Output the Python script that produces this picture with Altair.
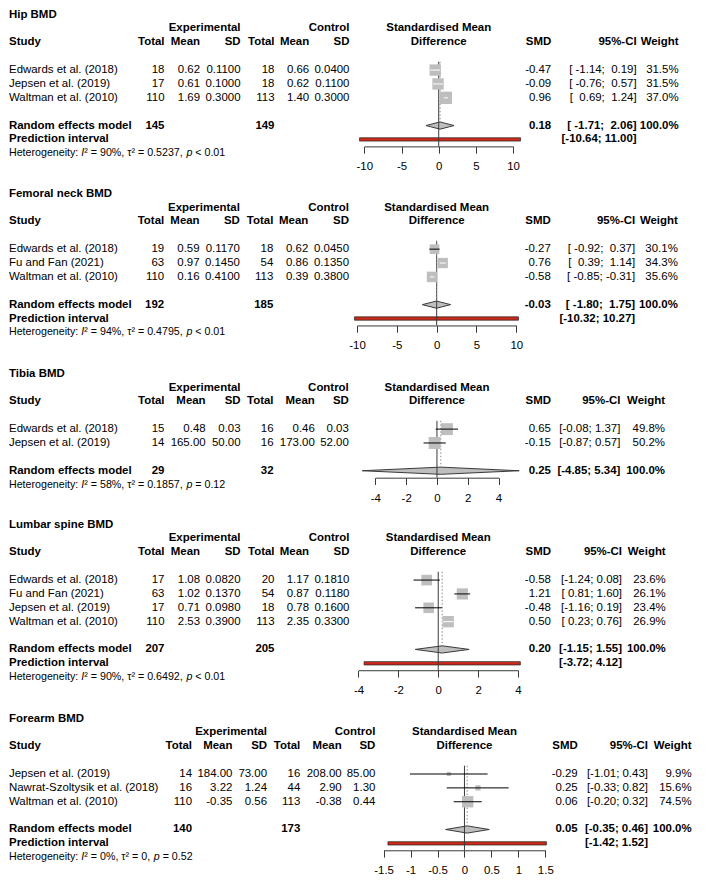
import altair as alt
import pandas as pd

# ---------------- data ----------------
hip_title = "Hip BMD"
hip_studies = ["Edwards et al. (2018)", "Jepsen et al. (2019)", "Waltman et al. (2010)"]
hip_n_e = [18, 17, 110]
hip_mean_e = [0.62, 0.61, 1.69]
hip_sd_e = [0.1100, 0.1000, 0.3000]
hip_n_c = [18, 18, 113]
hip_mean_c = [0.66, 0.62, 1.40]
hip_sd_c = [0.0400, 0.1100, 0.3000]
hip_smd = [-0.47, -0.09, 0.96]
hip_lower = [-1.14, -0.76, 0.69]
hip_upper = [0.19, 0.57, 1.24]
hip_weight = [31.5, 31.5, 37.0]
hip_random = [0.18, -1.71, 2.06]
hip_predict = [-10.64, 11.00]
hip_totals = [145, 149]
hip_het = ["90%", "0.5237", "< 0.01"]
hip_ticks = [-10, -5, 0, 5, 10]

fn_title = "Femoral neck BMD"
fn_studies = ["Edwards et al. (2018)", "Fu and Fan (2021)", "Waltman et al. (2010)"]
fn_n_e = [19, 63, 110]
fn_mean_e = [0.59, 0.97, 0.16]
fn_sd_e = [0.1170, 0.1450, 0.4100]
fn_n_c = [18, 54, 113]
fn_mean_c = [0.62, 0.86, 0.39]
fn_sd_c = [0.0450, 0.1350, 0.3800]
fn_smd = [-0.27, 0.76, -0.58]
fn_lower = [-0.92, 0.39, -0.85]
fn_upper = [0.37, 1.14, -0.31]
fn_weight = [30.1, 34.3, 35.6]
fn_random = [-0.03, -1.80, 1.75]
fn_predict = [-10.32, 10.27]
fn_totals = [192, 185]
fn_het = ["94%", "0.4795", "< 0.01"]
fn_ticks = [-10, -5, 0, 5, 10]

tb_title = "Tibia BMD"
tb_studies = ["Edwards et al. (2018)", "Jepsen et al. (2019)"]
tb_n_e = [15, 14]
tb_mean_e = [0.48, 165.00]
tb_sd_e = [0.03, 50.00]
tb_n_c = [16, 16]
tb_mean_c = [0.46, 173.00]
tb_sd_c = [0.03, 52.00]
tb_smd = [0.65, -0.15]
tb_lower = [-0.08, -0.87]
tb_upper = [1.37, 0.57]
tb_weight = [49.8, 50.2]
tb_random = [0.25, -4.85, 5.34]
tb_predict = None
tb_totals = [29, 32]
tb_het = ["58%", "0.1857", "= 0.12"]
tb_ticks = [-4, -2, 0, 2, 4]

ls_title = "Lumbar spine BMD"
ls_studies = ["Edwards et al. (2018)", "Fu and Fan (2021)", "Jepsen et al. (2019)", "Waltman et al. (2010)"]
ls_n_e = [17, 63, 17, 110]
ls_mean_e = [1.08, 1.02, 0.71, 2.53]
ls_sd_e = [0.0820, 0.1370, 0.0980, 0.3900]
ls_n_c = [20, 54, 18, 113]
ls_mean_c = [1.17, 0.87, 0.78, 2.35]
ls_sd_c = [0.1810, 0.1180, 0.1600, 0.3300]
ls_smd = [-0.58, 1.21, -0.48, 0.50]
ls_lower = [-1.24, 0.81, -1.16, 0.23]
ls_upper = [0.08, 1.60, 0.19, 0.76]
ls_weight = [23.6, 26.1, 23.4, 26.9]
ls_random = [0.20, -1.15, 1.55]
ls_predict = [-3.72, 4.12]
ls_totals = [207, 205]
ls_het = ["90%", "0.6492", "< 0.01"]
ls_ticks = [-4, -2, 0, 2, 4]

fa_title = "Forearm BMD"
fa_studies = ["Jepsen et al. (2019)", "Nawrat-Szoltysik et al. (2018)", "Waltman et al. (2010)"]
fa_n_e = [14, 16, 110]
fa_mean_e = [184.00, 3.22, -0.35]
fa_sd_e = [73.00, 1.24, 0.56]
fa_n_c = [16, 44, 113]
fa_mean_c = [208.00, 2.90, -0.38]
fa_sd_c = [85.00, 1.30, 0.44]
fa_smd = [-0.29, 0.25, 0.06]
fa_lower = [-1.01, -0.33, -0.20]
fa_upper = [0.43, 0.82, 0.32]
fa_weight = [9.9, 15.6, 74.5]
fa_random = [0.05, -0.35, 0.46]
fa_predict = [-1.42, 1.52]
fa_totals = [140, 173]
fa_het = ["0%", "0", "= 0.52"]
fa_ticks = [-1.5, -1, -0.5, 0, 0.5, 1, 1.5]

# ---------------- layout ----------------
S = 0.97
FONT = "Liberation Sans"
FS = 11.8 * S
FS_HET = 11.0 * S
PITCH = 14.3
W = 690
NB = "\u00a0"
SQ = "#BEBEBE"
LINE = "#3a3a3a"
RED = "#cc2a1a"


def X(xr):
    return (xr - 3.0) * S + 1.0


def Yabs(yr):
    return (yr - 1.0) * S


AW = {' ': 278, '%': 889, ',': 278, '.': 278, ':': 278, ';': 278, '<': 584, '=': 584,
      'H': 722, 'I': 278, 'e': 556, 't': 278, 'r': 333, 'o': 556, 'g': 556, 'n': 556,
      'i': 222, 'y': 500, 'p': 556, '\u00b2': 333, '\u03c4': 450}


def tw(s, size):
    return sum(AW.get(ch, 556) for ch in s) / 1000.0 * size


cols_std = dict(te=163.3, me=200, se=241.7, tc=276.7, mc=312.5, sc=354, smd=562, ci=650, wt=693.3)

panels = [
    dict(title=hip_title, studies=hip_studies, n_e=hip_n_e, mean_e=hip_mean_e, sd_e=hip_sd_e,
         n_c=hip_n_c, mean_c=hip_mean_c, sd_c=hip_sd_c, smd=hip_smd, lower=hip_lower, upper=hip_upper,
         weight=hip_weight, random=hip_random, predict=hip_predict, totals=hip_totals, het=hip_het,
         ticks=hip_ticks, dm=2, ds=4,
         top=0, bottom=178, anchor=19, tick_px=(369.3, 522.7), sqmax=12.7, cols=cols_std),
    dict(title=fn_title, studies=fn_studies, n_e=fn_n_e, mean_e=fn_mean_e, sd_e=fn_sd_e,
         n_c=fn_n_c, mean_c=fn_mean_c, sd_c=fn_sd_c, smd=fn_smd, lower=fn_lower, upper=fn_upper,
         weight=fn_weight, random=fn_random, predict=fn_predict, totals=fn_totals, het=fn_het,
         ticks=fn_ticks, dm=2, ds=4,
         top=178, bottom=362, anchor=203.3, tick_px=(361.8, 526.0), sqmax=10.8,
         cols=dict(te=163, me=199.5, se=241, tc=275.5, mc=311.5, sc=353.5, smd=561.5, ci=648.5, wt=692.5)),
    dict(title=tb_title, studies=tb_studies, n_e=tb_n_e, mean_e=tb_mean_e, sd_e=tb_sd_e,
         n_c=tb_n_c, mean_c=tb_mean_c, sd_c=tb_sd_c, smd=tb_smd, lower=tb_lower, upper=tb_upper,
         weight=tb_weight, random=tb_random, predict=tb_predict, totals=tb_totals, het=tb_het,
         ticks=tb_ticks, dm=2, ds=2,
         top=362, bottom=515, anchor=388.3, tick_px=(380.7, 507.7), sqmax=12.3,
         cols=dict(te=163.3, me=205.7, se=241.7, tc=275.7, mc=318.3, sc=353.3, smd=561.7, ci=633.3, wt=679.3)),
    dict(title=ls_title, studies=ls_studies, n_e=ls_n_e, mean_e=ls_mean_e, sd_e=ls_sd_e,
         n_c=ls_n_c, mean_c=ls_mean_c, sd_c=ls_sd_c, smd=ls_smd, lower=ls_lower, upper=ls_upper,
         weight=ls_weight, random=ls_random, predict=ls_predict, totals=ls_totals, het=ls_het,
         ticks=ls_ticks, dm=2, ds=4,
         top=515, bottom=712, anchor=543.3, tick_px=(363.3, 527.7), sqmax=11.7,
         cols=dict(te=163.3, me=200, se=241.7, tc=276.7, mc=312.3, sc=354, smd=561.7, ci=635, wt=680)),
    dict(title=fa_title, studies=fa_studies, n_e=fa_n_e, mean_e=fa_mean_e, sd_e=fa_sd_e,
         n_c=fa_n_c, mean_c=fa_mean_c, sd_c=fa_sd_c, smd=fa_smd, lower=fa_lower, upper=fa_upper,
         weight=fa_weight, random=fa_random, predict=fa_predict, totals=fa_totals, het=fa_het,
         ticks=fa_ticks, dm=2, ds=2,
         top=712, bottom=892, anchor=742.3, tick_px=(389.2, 555.9), sqmax=11.7,
         cols=dict(te=191.7, me=233.3, se=269, tc=303.3, mc=346, sc=380.7, smd=589.3, ci=661.7, wt=706.7)),
]


def fmt_ci(lows, ups):
    ls = [f"{v:.2f}" for v in lows]
    us = [f"{v:.2f}" for v in ups]
    wl = max(map(len, ls))
    wu = max(map(len, us))
    return ["[" + l.rjust(wl, NB) + ";" + NB + u.rjust(wu, NB) + "]" for l, u in zip(ls, us)]


def build(d):
    k = len(d["studies"])
    srows = [4 + i for i in range(k)]
    r_re = 4 + k + 1
    has_pi = d["predict"] is not None
    r_last = r_re + 1 if has_pi else r_re
    r_het = r_last + 1
    r_axis = r_last + 0.5
    T = max(0.0, Yabs(d["top"]))
    H = Yabs(d["bottom"]) - T

    def P(r):
        return Yabs(d["anchor"] + (r - 1) * PITCH) - T

    yscale = alt.Scale(domain=[0, 12], range=[P(0), P(12)], nice=False, zero=False)
    ticks = d["ticks"]
    t0, t1 = ticks[0], ticks[-1]
    px0, px1 = d["tick_px"]
    xscale = alt.Scale(domain=[t0, t1], range=[X(px0), X(px1)], nice=False, zero=False)
    ppu = (px1 - px0) / (t1 - t0)
    zero_ref = px0 + (0 - t0) * ppu

    axis = alt.Axis(values=ticks, labelExpr="toString(datum.value)", title=None, grid=False,
                    orient="bottom", offset=P(r_axis) - H,
                    domainColor=LINE, domainWidth=1, tickColor=LINE, tickWidth=1, tickSize=7 * S,
                    labelFont=FONT, labelFontSize=FS, labelColor="black", labelPadding=8 * S,
                    labelFlush=False, labelOverlap=False)

    def ex(f):
        return alt.X(f"{f}:Q", scale=xscale, axis=axis)

    def ey(f):
        return alt.Y(f"{f}:Q", scale=yscale, axis=None)

    layers = []
    est, rlo, rhi = d["random"]
    hd = 0.26
    dia = pd.DataFrame({"x": [rlo, est, rhi], "a": [r_re, r_re - hd, r_re], "b": [r_re, r_re + hd, r_re]})
    layers.append(alt.Chart(dia).mark_area(fill=SQ, stroke=LINE, strokeWidth=1, orient="vertical")
                  .encode(x=ex("x"), y=ey("a"), y2="b:Q"))
    if has_pi:
        pi = pd.DataFrame({"lo": [d["predict"][0]], "hi": [d["predict"][1]],
                           "a": [r_last - 0.12], "b": [r_last + 0.12]})
        layers.append(alt.Chart(pi).mark_rect(fill=RED, stroke="#222222", strokeWidth=0.7)
                      .encode(x=ex("lo"), x2="hi:Q", y=ey("a"), y2="b:Q"))
    zl = pd.DataFrame({"x": [0], "a": [srows[0] - 0.6], "b": [r_axis]})
    layers.append(alt.Chart(zl).mark_rule(color=LINE, strokeWidth=1)
                  .encode(x=ex("x"), y=ey("a"), y2="b:Q"))
    dl = pd.DataFrame({"x": [est], "a": [srows[0] - 0.6], "b": [r_re - hd]})
    layers.append(alt.Chart(dl).mark_rule(color="#8a8a8a", strokeWidth=1, strokeDash=[1.5, 2])
                  .encode(x=ex("x"), y=ey("a"), y2="b:Q"))

    wmax = max(d["weight"])
    sq = pd.DataFrame({"x": d["smd"], "r": srows, "w": d["weight"]})
    layers.append(alt.Chart(sq).mark_square(color=SQ, opacity=1, strokeWidth=0)
                  .encode(x=ex("x"), y=ey("r"),
                          size=alt.Size("w:Q", scale=alt.Scale(domain=[0, wmax], range=[0, (d["sqmax"] * S) ** 2]),
                                        legend=None)))
    ci_col = []
    for lo, hi, w in zip(d["lower"], d["upper"], d["weight"]):
        side = d["sqmax"] * (w / wmax) ** 0.5
        ci_col.append("white" if (hi - lo) * ppu <= side else "black")
    ci = pd.DataFrame({"lo": d["lower"], "hi": d["upper"], "r": srows, "c": ci_col})
    layers.append(alt.Chart(ci).mark_rule(strokeWidth=1)
                  .encode(x=ex("lo"), x2="hi:Q", y=ey("r"), color=alt.Color("c:N", scale=None)))

    # ---- text table ----
    items = []

    def add(r, t, x, align="right", bold=False, size=FS, italic=False):
        items.append(dict(row=r, t=t, x=round(x, 2), align=align, bold=bold, size=round(size, 3), italic=italic))

    c = d["cols"]
    add(0, d["title"], X(3), "left", True)
    add(1, "Experimental", X(c["se"]), "right", True)
    add(1, "Control", X(c["sc"]), "right", True)
    add(1, "Standardised Mean", X(zero_ref), "center", True)
    add(2, "Difference", X(zero_ref), "center", True)
    add(2, "Study", X(3), "left", True)
    for key, lab in [("te", "Total"), ("me", "Mean"), ("se", "SD"), ("tc", "Total"), ("mc", "Mean"),
                     ("sc", "SD"), ("smd", "SMD"), ("ci", "95%-CI"), ("wt", "Weight")]:
        add(2, lab, X(c[key]), "right", True)
    lows = list(d["lower"]) + [rlo] + ([d["predict"][0]] if has_pi else [])
    ups = list(d["upper"]) + [rhi] + ([d["predict"][1]] if has_pi else [])
    cis = fmt_ci(lows, ups)
    dm, ds = d["dm"], d["ds"]
    for i in range(k):
        r = srows[i]
        add(r, d["studies"][i], X(3), "left")
        add(r, str(d["n_e"][i]), X(c["te"]))
        add(r, f"{d['mean_e'][i]:.{dm}f}", X(c["me"]))
        add(r, f"{d['sd_e'][i]:.{ds}f}", X(c["se"]))
        add(r, str(d["n_c"][i]), X(c["tc"]))
        add(r, f"{d['mean_c'][i]:.{dm}f}", X(c["mc"]))
        add(r, f"{d['sd_c'][i]:.{ds}f}", X(c["sc"]))
        add(r, f"{d['smd'][i]:.2f}", X(c["smd"]))
        add(r, cis[i], X(c["ci"]))
        add(r, f"{d['weight'][i]:.1f}%", X(c["wt"]))
    add(r_re, "Random effects model", X(3), "left", True)
    add(r_re, str(d["totals"][0]), X(c["te"]), "right", True)
    add(r_re, str(d["totals"][1]), X(c["tc"]), "right", True)
    add(r_re, f"{est:.2f}", X(c["smd"]), "right", True)
    add(r_re, cis[k], X(c["ci"]), "right", True)
    add(r_re, "100.0%", X(c["wt"]), "right", True)
    if has_pi:
        add(r_last, "Prediction interval", X(3), "left", True)
        add(r_last, cis[k + 1], X(c["ci"]), "right", True)
    # heterogeneity line with italic I and p
    i2, tau2, pstr = d["het"]
    x0 = X(3)
    s1 = "Heterogeneity: "
    s3 = f"\u00b2 = {i2}, \u03c4\u00b2 = {tau2}, "
    xa = x0 + tw(s1, FS_HET)
    xb = xa + tw("I", FS_HET)
    xc = xb + tw(s3, FS_HET)
    xd = xc + tw("p ", FS_HET)
    add(r_het, s1.strip(), x0, "left", False, FS_HET)
    add(r_het, "I", xa, "left", False, FS_HET, True)
    add(r_het, s3.strip(), xb, "left", False, FS_HET)
    add(r_het, "p", xc, "left", False, FS_HET, True)
    add(r_het, pstr, xd, "left", False, FS_HET)

    tdf = pd.DataFrame(items)
    for (x, align, bold, size, italic), g in tdf.groupby(["x", "align", "bold", "size", "italic"], sort=False):
        layers.append(alt.Chart(g[["row", "t"]].reset_index(drop=True))
                      .mark_text(align=align, baseline="middle", font=FONT, fontSize=float(size),
                                 fontWeight="bold" if bold else "normal",
                                 fontStyle="italic" if italic else "normal", color="black")
                      .encode(x=alt.value(float(x)), y=ey("row"), text="t:N"))
    return alt.layer(*layers).properties(width=W, height=H)


charts = [build(p) for p in panels]
chart = (alt.vconcat(*charts, spacing=0, bounds="flush", padding=0)
         .resolve_scale(x="independent", y="independent", size="independent", color="independent")
         .configure_view(strokeWidth=0))
chart.save("out.html", embed_options={"renderer": "svg", "actions": False})
